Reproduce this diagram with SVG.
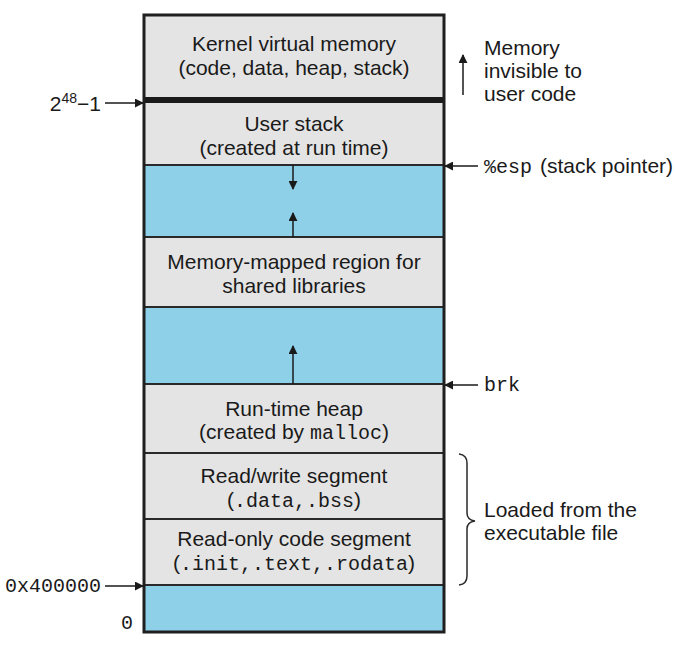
<svg xmlns="http://www.w3.org/2000/svg" width="675" height="672" viewBox="0 0 675 672">
<defs>
<marker id="ah" viewBox="0 0 10 10" refX="9" refY="5" markerWidth="9" markerHeight="9" markerUnits="userSpaceOnUse" orient="auto">
<path d="M0,0 L10,5 L0,10 z" fill="#1a1a1a"/>
</marker>
</defs>
<style>
.g{fill:#e4e4e4}
.b{fill:#8dd0e8}
.div{stroke:#2a2a2a;stroke-width:2}
.t{font-family:"Liberation Sans",Arial,sans-serif;font-size:21px;fill:#1a1a1a}
.m{font-family:"Liberation Mono","Courier New",monospace;font-size:20px;fill:#1a1a1a}
.c{text-anchor:middle}
.ar{stroke:#1a1a1a;stroke-width:1.5;fill:none;marker-end:url(#ah)}
</style>
<rect x="0" y="0" width="675" height="672" fill="#ffffff"/>

<g id="kernel">
<rect class="g" x="144" y="15" width="300" height="82"/>
<text class="t c" x="294" y="51">Kernel virtual memory</text>
<text class="t c" x="294" y="75">(code, data, heap, stack)</text>
</g>
<g id="boundary">
<rect x="144" y="97" width="300" height="6" fill="#1a1a1a"/>
</g>
<g id="user-stack">
<rect class="g" x="144" y="103" width="300" height="62"/>
<text class="t c" x="294" y="131">User stack</text>
<text class="t c" x="294" y="155">(created at run time)</text>
</g>
<g id="gap1">
<rect class="b" x="144" y="165" width="300" height="72"/>
</g>
<g id="mmap">
<rect class="g" x="144" y="237" width="300" height="70"/>
<text class="t c" x="294" y="269">Memory-mapped region for</text>
<text class="t c" x="294" y="293">shared libraries</text>
</g>
<g id="gap2">
<rect class="b" x="144" y="307" width="300" height="77"/>
</g>
<g id="heap">
<rect class="g" x="144" y="384" width="300" height="69"/>
<text class="t c" x="294" y="416">Run-time heap</text>
<text class="t c" x="294" y="439">(created by <tspan class="m">malloc</tspan>)</text>
</g>
<g id="rw">
<rect class="g" x="144" y="453" width="300" height="66"/>
<text class="t c" x="294" y="483">Read/write segment</text>
<text class="t c" x="294" y="507">(<tspan class="m">.data,.bss</tspan>)</text>
</g>
<g id="ro">
<rect class="g" x="144" y="519" width="300" height="66"/>
<text class="t c" x="294" y="546">Read-only code segment</text>
<text class="t c" x="294" y="570">(<tspan class="m">.init,.text,.rodata</tspan>)</text>
</g>
<g id="gap3">
<rect class="b" x="144" y="585" width="300" height="47"/>
</g>

<g id="dividers">
<line class="div" x1="144" y1="165" x2="444" y2="165"/>
<line class="div" x1="144" y1="237" x2="444" y2="237"/>
<line class="div" x1="144" y1="307" x2="444" y2="307"/>
<line class="div" x1="144" y1="384" x2="444" y2="384"/>
<line class="div" x1="144" y1="453" x2="444" y2="453"/>
<line class="div" x1="144" y1="519" x2="444" y2="519"/>
<line class="div" x1="144" y1="585" x2="444" y2="585"/>
<rect x="144" y="15" width="300" height="617" fill="none" stroke="#1f1f1f" stroke-width="3"/>
</g>

<g id="labels">
<text class="t" x="101" y="111" text-anchor="end">2<tspan dy="-8" font-size="14">48</tspan><tspan dy="8">−1</tspan></text>
<text class="m" x="101" y="592" text-anchor="end" font-size="19.5">0x400000</text>
<text class="m" x="133" y="629" text-anchor="end">0</text>
<text class="t" x="484" y="55">Memory</text>
<text class="t" x="484" y="78">invisible to</text>
<text class="t" x="484" y="101">user code</text>
<text class="t" x="484" y="173"><tspan class="m">%esp</tspan><tspan dx="8">(stack pointer)</tspan></text>
<text class="m" x="484" y="391">brk</text>
<text class="t" x="484" y="517">Loaded from the</text>
<text class="t" x="484" y="540">executable file</text>
</g>

<g id="connectors">
<line class="ar" x1="105" y1="103" x2="143" y2="103"/>
<line class="ar" x1="105" y1="586" x2="143" y2="586"/>
<line class="ar" x1="293" y1="165" x2="293" y2="189"/>
<line class="ar" x1="293" y1="237" x2="293" y2="213"/>
<line class="ar" x1="293" y1="384" x2="293" y2="346"/>
<line class="ar" x1="463" y1="95" x2="463" y2="55"/>
<line class="ar" x1="478" y1="166" x2="445" y2="166"/>
<line class="ar" x1="478" y1="385" x2="445" y2="385"/>
<path d="M459,454 Q467,455 467,463 L467,513 Q467,520 475,521 Q467,522 467,529 L467,576 Q467,584 459,585" fill="none" stroke="#2a2a2a" stroke-width="1.5"/>
</g>
</svg>
